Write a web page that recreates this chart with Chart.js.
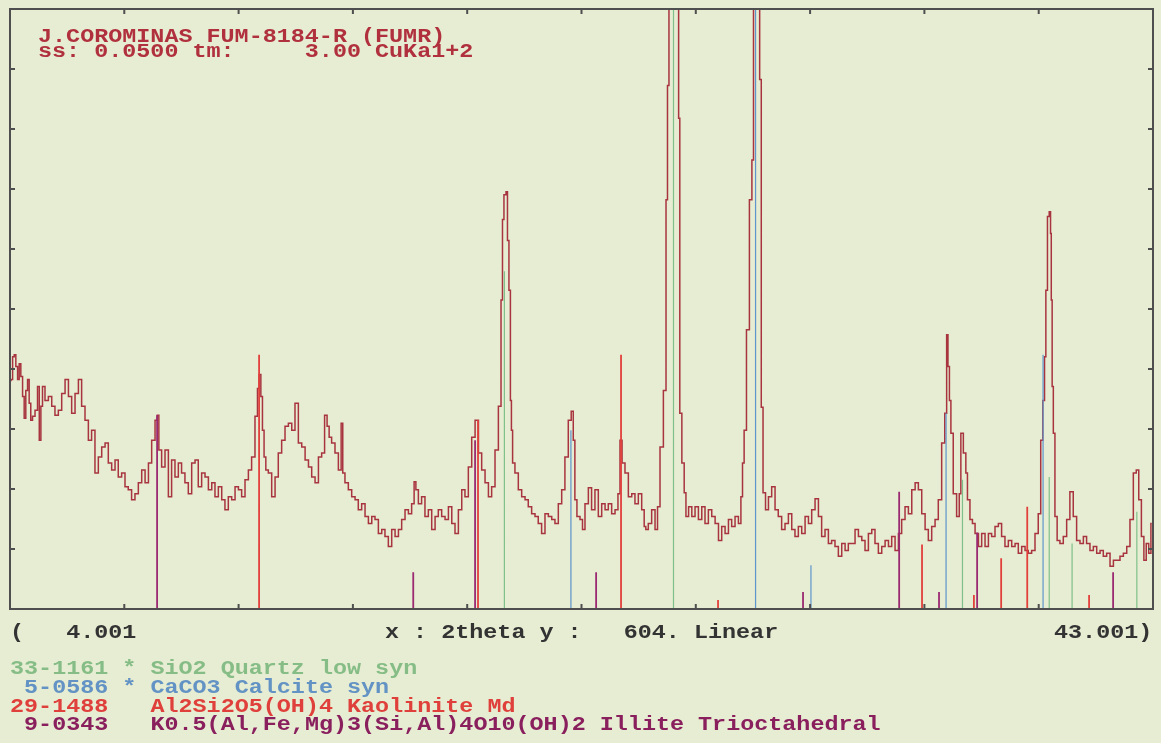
<!DOCTYPE html>
<html>
<head>
<meta charset="utf-8">
<title>XRD FUM-8184-R</title>
<script src="https://cdn.jsdelivr.net/npm/chart.js@4"></script>
<style>
  html, body { margin: 0; padding: 0; background: #e7edd2; }
  #wrap { position: relative; width: 1161px; height: 743px; overflow: hidden; }
  #xrd { position: absolute; left: 0; top: 0; }
  .t {
    position: absolute; white-space: pre;
    font-family: "Liberation Mono", "DejaVu Sans Mono", monospace;
    font-size: 20px; font-weight: bold; line-height: 16px;
    transform: scaleX(1.17); transform-origin: 0 50%;
  }
</style>
</head>
<body>
<div id="wrap">
  <canvas id="xrd" width="1161" height="743"></canvas>
  <div class="t" style="left:38px;top:29px;color:#b0303e">J.COROMINAS FUM-8184-R (FUMR)</div>
  <div class="t" style="left:38px;top:44px;color:#b0303e">ss: 0.0500 tm:     3.00 CuKa1+2</div>
  <div class="t" style="left:10px;top:625px;color:#333">(   4.001</div>
  <div class="t" style="left:385px;top:625px;color:#333">x : 2theta y :   604. Linear</div>
  <div class="t" style="left:1054px;top:625px;color:#333">43.001)</div>
  <div class="t" style="left:10px;top:661px;color:#86bd86">33-1161 * SiO2 Quartz low syn</div>
  <div class="t" style="left:10px;top:680px;color:#6393c4"> 5-0586 * CaCO3 Calcite syn</div>
  <div class="t" style="left:10px;top:699px;color:#e0403c">29-1488   Al2Si2O5(OH)4 Kaolinite Md</div>
  <div class="t" style="left:10px;top:717px;color:#8a1f5e"> 9-0343   K0.5(Al,Fe,Mg)3(Si,Al)4O10(OH)2 Illite Trioctahedral</div>
</div>
<script>
// axis range (2theta, counts)
const xMin = 4.001;
const xMax = 43.001;
const yMax = 604;

const twoTheta = [
  4.01, 4.06, 4.12, 4.17, 4.23, 4.29, 4.34, 4.40, 4.46, 4.51, 4.57, 4.63, 4.68, 4.74, 4.80, 4.91, 4.97,
  5.03, 5.08, 5.14, 5.25, 5.37, 5.48, 5.59, 5.71, 5.82, 5.94, 6.05, 6.16, 6.28, 6.39, 6.50, 6.62, 6.73,
  6.84, 6.96, 7.07, 7.19, 7.30, 7.41, 7.53, 7.64, 7.75, 7.87, 7.98, 8.09, 8.21, 8.32, 8.44, 8.55, 8.67,
  8.78, 8.89, 9.01, 9.04, 9.12, 9.23, 9.35, 9.46, 9.57, 9.69, 9.80, 9.91, 10.03, 10.14, 10.26, 10.37,
  10.48, 10.60, 10.71, 10.83, 10.94, 11.05, 11.17, 11.28, 11.39, 11.51, 11.62, 11.74, 11.85, 11.96,
  12.08, 12.19, 12.30, 12.42, 12.47, 12.53, 12.59, 12.64, 12.70, 12.76, 12.87, 12.99, 13.10, 13.21,
  13.33, 13.44, 13.56, 13.67, 13.78, 13.90, 14.01, 14.13, 14.24, 14.35, 14.47, 14.58, 14.69, 14.78,
  14.86, 14.92, 15.03, 15.15, 15.26, 15.34, 15.37, 15.49, 15.60, 15.72, 15.83, 15.94, 16.06, 16.17,
  16.29, 16.40, 16.51, 16.63, 16.74, 16.85, 16.97, 17.08, 17.20, 17.31, 17.42, 17.54, 17.65, 17.76,
  17.82, 17.88, 17.99, 18.10, 18.22, 18.33, 18.45, 18.56, 18.67, 18.79, 18.90, 19.02, 19.13, 19.24,
  19.36, 19.47, 19.58, 19.70, 19.81, 19.93, 20.04, 20.15, 20.27, 20.38, 20.49, 20.61, 20.72, 20.79,
  20.82, 20.89, 20.96, 20.99, 21.06, 21.09, 21.13, 21.17, 21.29, 21.40, 21.52, 21.63, 21.74, 21.86,
  21.97, 22.08, 22.20, 22.31, 22.43, 22.54, 22.65, 22.77, 22.88, 22.99, 23.11, 23.19, 23.25, 23.30,
  23.39, 23.51, 23.56, 23.68, 23.79, 23.90, 24.02, 24.13, 24.25, 24.36, 24.47, 24.59, 24.70, 24.79,
  24.84, 24.93, 25.04, 25.16, 25.27, 25.38, 25.50, 25.61, 25.67, 25.72, 25.84, 25.95, 26.07, 26.12,
  26.24, 26.35, 26.42, 26.45, 26.52, 26.64, 26.79, 26.84, 26.87, 26.98, 27.03, 27.10, 27.21, 27.32,
  27.43, 27.55, 27.66, 27.77, 27.89, 28.00, 28.12, 28.23, 28.34, 28.46, 28.57, 28.68, 28.80, 28.91,
  28.97, 29.02, 29.08, 29.18, 29.28, 29.35, 29.39, 29.45, 29.55, 29.61, 29.66, 29.73, 29.83, 29.93,
  30.05, 30.16, 30.27, 30.39, 30.50, 30.62, 30.73, 30.84, 30.96, 31.07, 31.19, 31.30, 31.41, 31.53,
  31.64, 31.75, 31.87, 31.98, 32.09, 32.21, 32.32, 32.44, 32.55, 32.66, 32.78, 32.89, 33.01, 33.12,
  33.23, 33.35, 33.46, 33.57, 33.69, 33.80, 33.92, 34.03, 34.14, 34.26, 34.37, 34.48, 34.60, 34.71,
  34.83, 34.94, 35.05, 35.17, 35.28, 35.39, 35.51, 35.62, 35.73, 35.85, 35.94, 35.98, 36.03, 36.08,
  36.13, 36.24, 36.36, 36.42, 36.47, 36.59, 36.64, 36.70, 36.81, 36.87, 36.99, 37.10, 37.21, 37.33,
  37.44, 37.55, 37.67, 37.78, 37.89, 38.01, 38.12, 38.24, 38.35, 38.46, 38.58, 38.69, 38.80, 38.92,
  39.03, 39.14, 39.20, 39.28, 39.32, 39.37, 39.43, 39.49, 39.52, 39.54, 39.58, 39.62, 39.69, 39.77,
  39.88, 40.00, 40.11, 40.22, 40.34, 40.45, 40.57, 40.68, 40.79, 40.91, 41.02, 41.14, 41.25, 41.36,
  41.48, 41.59, 41.71, 41.82, 41.93, 42.05, 42.16, 42.27, 42.39, 42.47, 42.56, 42.65, 42.73, 42.81,
  42.90, 42.96
];
const counts = [
  230, 231, 254, 256, 244, 231, 247, 234, 214, 192, 220, 231, 207, 190, 194, 200, 224,
  170, 204, 224, 210, 214, 204, 195, 200, 217, 231, 214, 197, 217, 231, 204, 190, 170,
  180, 137, 153, 163, 167, 147, 140, 150, 133, 137, 123, 120, 110, 116, 127, 140, 127,
  147, 170, 190, 195, 160, 143, 160, 113, 150, 133, 147, 137, 127, 116, 147, 150,
  123, 137, 133, 120, 127, 113, 123, 110, 100, 113, 110, 123, 120, 113,
  130, 140, 153, 194, 222, 236, 214, 180, 153, 140, 137, 113, 133, 157,
  170, 184, 187, 180, 207, 167, 163, 150, 143, 133, 127, 153, 157, 195,
  184, 173, 167, 157, 140, 187, 137, 127, 120, 113, 110, 100, 106, 93,
  86, 93, 90, 76, 80, 73, 63, 80, 73, 80, 90, 100, 96, 106,
  128, 120, 106, 113, 93, 100, 80, 93, 100, 93, 90, 103, 86, 76,
  100, 120, 113, 143, 173, 190, 157, 140, 127, 113, 123, 160, 204, 311,
  392, 417, 420, 371, 321, 210, 180, 147, 137, 120, 113, 110, 103, 96,
  93, 86, 76, 96, 93, 90, 86, 106, 120, 153, 190, 199, 170, 110,
  93, 90, 80, 106, 122, 100, 120, 93, 106, 100, 106, 96, 100, 116,
  170, 147, 137, 113, 116, 106, 116, 100, 83, 80, 86, 100, 80, 103,
  163, 220, 412, 527, 980, 1500, 900, 494, 197, 147, 117, 93, 103, 93,
  103, 90, 103, 86, 100, 93, 86, 69, 83, 76, 90, 83, 93, 86,
  113, 147, 180, 281, 412, 452, 700, 1200, 800, 533, 203, 117, 100, 113,
  123, 100, 93, 80, 86, 96, 80, 73, 83, 76, 93, 86, 100, 111,
  93, 73, 80, 66, 69, 63, 53, 66, 59, 66, 66, 80, 73, 69,
  59, 76, 80, 66, 56, 63, 69, 63, 73, 59, 76, 90, 103, 96,
  120, 127, 120, 96, 80, 69, 83, 90, 110, 167, 197, 276, 244, 210,
  177, 116, 93, 116, 177, 157, 137, 110, 90, 86, 76, 63, 76, 63,
  76, 73, 83, 86, 73, 63, 69, 63, 66, 56, 63, 59, 56, 59,
  76, 96, 170, 210, 254, 321, 395, 400, 378, 311, 224, 177, 93, 69,
  66, 73, 90, 118, 93, 69, 66, 73, 66, 59, 63, 56, 59, 53,
  56, 43, 49, 49, 53, 56, 63, 90, 137, 140, 110, 73, 49, 66,
  56, 86
];

// reference stick patterns (2theta, height on the plot)
const quartzPos = [20.87, 26.64, 36.50, 39.46, 40.24, 42.45];
const quartzInt = [340, 1500, 130, 133, 66, 98];
const calcitePos = [23.14, 29.44, 31.33, 35.94, 39.25];
const calciteInt = [180, 1200, 44, 197, 256];
const kaolinitePos = [12.50, 19.97, 24.85, 28.16, 35.12, 36.89, 37.82, 38.71, 40.82];
const kaoliniteInt = [256, 190, 256, 9, 65, 14, 51, 103, 14];
const illitePos = [9.02, 17.76, 19.87, 24.00, 31.06, 34.34, 35.70, 37.00, 41.64];
const illiteInt = [195, 37, 170, 37, 17, 118, 17, 77, 37];

function sticks(pos, ints) {
  const d = [];
  pos.forEach((p, i) => {
    d.push({ x: p, y: 0 }, { x: p, y: ints[i] }, { x: p, y: null });
  });
  return d;
}

function stickSet(label, pos, ints, color, width) {
  return {
    label: label,
    data: sticks(pos, ints),
    borderColor: color,
    borderWidth: width,
    pointRadius: 0,
    spanGaps: false,
    order: 1
  };
}

const framePlugin = {
  id: "frame",
  afterDatasetsDraw(chart) {
    const { ctx, chartArea: a } = chart;
    const w = a.right - a.left;
    const h = a.bottom - a.top;
    ctx.save();
    ctx.strokeStyle = "#4f4f4f";
    ctx.lineWidth = 2;
    ctx.strokeRect(a.left, a.top, w, h);
    ctx.beginPath();
    for (let k = 1; k < 10; k++) {
      const x = a.left + w * k / 10;
      const y = a.top + h * k / 10;
      ctx.moveTo(x, a.bottom); ctx.lineTo(x, a.bottom - 5);
      ctx.moveTo(x, a.top); ctx.lineTo(x, a.top + 5);
      ctx.moveTo(a.left, y); ctx.lineTo(a.left + 5, y);
      ctx.moveTo(a.right, y); ctx.lineTo(a.right - 5, y);
    }
    ctx.stroke();
    ctx.restore();
  }
};

new Chart(document.getElementById("xrd"), {
  type: "line",
  data: {
    datasets: [
      {
        label: "FUM-8184-R",
        data: twoTheta.map((t, i) => ({ x: t, y: counts[i] })),
        borderColor: "#a8343f",
        borderWidth: 1.5,
        pointRadius: 0,
        stepped: "middle",
        order: 5
      },
      stickSet("Quartz", quartzPos, quartzInt, "#7fc08a", 1.2),
      stickSet("Calcite", calcitePos, calciteInt, "#5d95cc", 1.2),
      stickSet("Kaolinite", kaolinitePos, kaoliniteInt, "#e2403c", 1.8),
      stickSet("Illite", illitePos, illiteInt, "#9a2a72", 1.8)
    ]
  },
  options: {
    responsive: false,
    animation: false,
    events: [],
    layout: { padding: { left: 10, top: 9, right: 8, bottom: 134 } },
    scales: {
      x: { type: "linear", min: xMin, max: xMax, display: false },
      y: { type: "linear", min: 0, max: yMax, display: false }
    },
    plugins: {
      legend: { display: false },
      tooltip: { enabled: false }
    }
  },
  plugins: [framePlugin]
});
</script>
</body>
</html>
